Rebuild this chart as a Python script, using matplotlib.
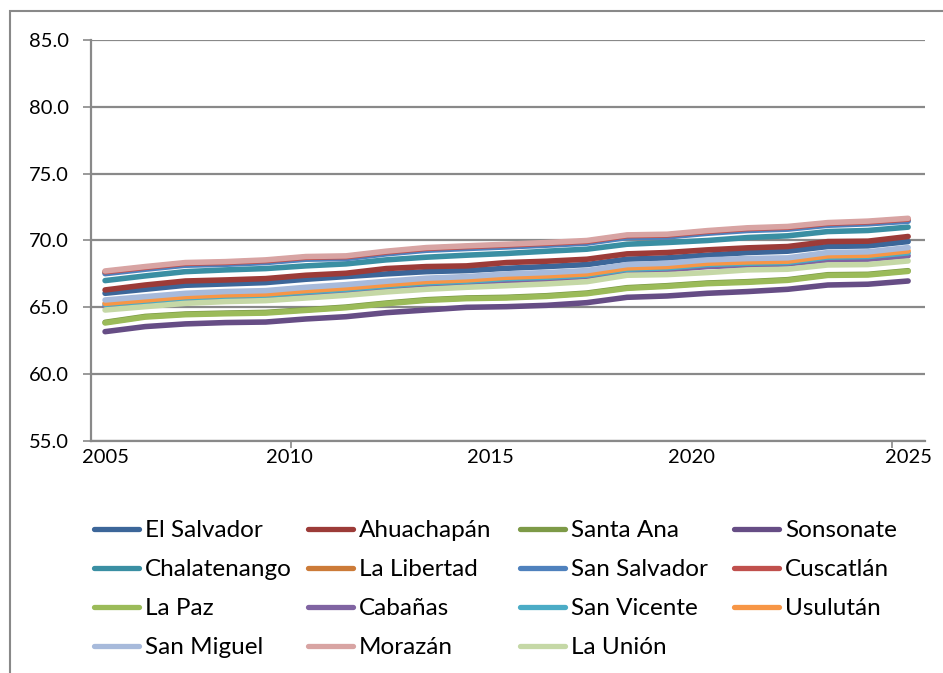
import matplotlib.pyplot as plt
from matplotlib.patches import Rectangle
from matplotlib.lines import Line2D

plt.rcParams['font.family'] = ['Lato', 'DejaVu Sans']

years = list(range(2005, 2026))

el_salvador = [66.05, 66.35, 66.65, 66.75, 66.85, 67.10, 67.30, 67.50, 67.67, 67.75, 67.92,
               68.05, 68.20, 68.60, 68.70, 68.90, 69.10, 69.20, 69.55, 69.60, 69.92]
ahuachapan = [66.30, 66.67, 66.97, 67.05, 67.15, 67.40, 67.55, 67.90, 68.05, 68.10, 68.35,
              68.45, 68.60, 69.00, 69.10, 69.30, 69.45, 69.55, 69.92, 69.95, 70.30]
santa_ana = [63.88, 64.32, 64.50, 64.57, 64.62, 64.82, 65.02, 65.32, 65.57, 65.70, 65.75,
             65.87, 66.07, 66.47, 66.62, 66.82, 66.92, 67.07, 67.44, 67.47, 67.74]
sonsonate = [63.18, 63.56, 63.76, 63.86, 63.90, 64.13, 64.30, 64.60, 64.80, 65.00, 65.05,
             65.15, 65.35, 65.75, 65.85, 66.05, 66.18, 66.35, 66.67, 66.73, 66.97]
chalatenango = [67.00, 67.35, 67.67, 67.80, 67.90, 68.10, 68.25, 68.55, 68.75, 68.90, 69.03,
                69.20, 69.35, 69.72, 69.85, 70.00, 70.22, 70.35, 70.67, 70.75, 71.00]
la_libertad = [67.60, 67.93, 68.22, 68.30, 68.43, 68.67, 68.73, 69.08, 69.35, 69.48, 69.60,
               69.73, 69.88, 70.30, 70.35, 70.62, 70.83, 70.93, 71.22, 71.33, 71.52]
san_salvador = [67.52, 67.85, 68.15, 68.22, 68.35, 68.60, 68.65, 69.00, 69.27, 69.40, 69.52,
                69.65, 69.80, 70.22, 70.27, 70.54, 70.75, 70.85, 71.14, 71.25, 71.44]
cuscatlan = [67.66, 67.99, 68.29, 68.36, 68.49, 68.74, 68.79, 69.14, 69.41, 69.54, 69.66,
             69.79, 69.94, 70.36, 70.41, 70.68, 70.89, 70.99, 71.28, 71.39, 71.60]
la_paz = [63.83, 64.27, 64.45, 64.52, 64.57, 64.77, 64.97, 65.27, 65.52, 65.65, 65.70,
          65.82, 66.02, 66.42, 66.57, 66.77, 66.87, 67.02, 67.39, 67.42, 67.69]
cabanas = [65.05, 65.30, 65.55, 65.68, 65.75, 65.95, 66.15, 66.50, 66.73, 66.85, 67.00,
           67.10, 67.30, 67.70, 67.80, 68.05, 68.15, 68.25, 68.55, 68.60, 68.85]
san_vicente = [65.22, 65.45, 65.70, 65.83, 65.90, 66.15, 66.35, 66.60, 66.83, 66.95, 67.15,
               67.25, 67.40, 67.85, 67.95, 68.20, 68.30, 68.35, 68.75, 68.80, 69.08]
usulutan = [65.30, 65.55, 65.80, 65.93, 66.00, 66.25, 66.45, 66.70, 66.93, 67.05, 67.25,
            67.35, 67.50, 67.95, 68.05, 68.30, 68.40, 68.45, 68.85, 68.90, 69.22]
san_miguel = [65.55, 65.80, 66.05, 66.18, 66.25, 66.50, 66.70, 66.95, 67.18, 67.30, 67.50,
              67.60, 67.75, 68.20, 68.30, 68.55, 68.65, 68.70, 69.10, 69.15, 69.47]
morazan = [67.72, 68.05, 68.35, 68.42, 68.55, 68.80, 68.85, 69.20, 69.47, 69.60, 69.72,
           69.85, 70.00, 70.42, 70.47, 70.74, 70.95, 71.05, 71.34, 71.45, 71.66]
la_union = [64.80, 65.05, 65.30, 65.43, 65.50, 65.70, 65.90, 66.15, 66.35, 66.50, 66.62,
            66.75, 66.92, 67.40, 67.45, 67.60, 67.80, 67.85, 68.17, 68.20, 68.47]

names = ['El Salvador', 'Ahuachapán', 'Santa Ana', 'Sonsonate', 'Chalatenango',
         'La Libertad', 'San Salvador', 'Cuscatlán', 'La Paz', 'Cabañas',
         'San Vicente', 'Usulután', 'San Miguel', 'Morazán', 'La Unión']
series = [el_salvador, ahuachapan, santa_ana, sonsonate, chalatenango, la_libertad,
          san_salvador, cuscatlan, la_paz, cabanas, san_vicente, usulutan,
          san_miguel, morazan, la_union]
colors = ['#3c6699', '#9c3b38', '#7d9a47', '#664d85', '#3a8fa3', '#cc7b38',
          '#4f81bd', '#c0504d', '#9bbb59', '#8064a2', '#4bacc6', '#f79646',
          '#a7badb', '#d8a4a3', '#c5d8a6']

xtick_pos = [2005, 2009.6, 2014.6, 2019.6, 2025]
xtick_labels = ['2005', '2010', '2015', '2020', '2025']
yticks = [55, 60, 65, 70, 75, 80, 85]

fig = plt.figure(figsize=(9.43, 6.73), dpi=100)
ax = fig.add_axes([91 / 943, 1 - 441 / 673, 834 / 943, 401 / 673])

gray = '#898989'
for y in yticks:
    ax.axhline(y, color=gray, lw=1.6, zorder=1)

for vals, c in zip(series, colors):
    ax.plot(years, vals, color=c, lw=4, solid_capstyle='round',
            solid_joinstyle='round', zorder=2)

ax.set_xlim(2004.65, 2025.42)
ax.set_ylim(55, 85)
ax.set_yticks(yticks)
ax.set_yticklabels(['%.1f' % v for v in yticks])
ax.set_xticks(xtick_pos)
ax.set_xticklabels(xtick_labels)
ax.set_xticks([2009.63, 2014.6, 2019.6, 2024.6], minor=True)

for s in ['top', 'right']:
    ax.spines[s].set_visible(False)
for s in ['left', 'bottom']:
    ax.spines[s].set_color(gray)
    ax.spines[s].set_linewidth(1.6)
ax.tick_params(axis='y', length=6, width=1.2, color=gray, pad=10, labelsize=14.5)
ax.tick_params(axis='x', which='major', length=0, pad=6, labelsize=14.5)
ax.tick_params(axis='x', which='minor', length=5, width=1.2, color=gray)

# legend: 4 columns placed separately so column widths stay fixed
col_x = [94, 308, 520, 734]
for col in range(4):
    idx = list(range(col, len(names), 4))
    handles = [Line2D([], [], color=colors[i], lw=3.8, solid_capstyle='round') for i in idx]
    fig.legend(handles, [names[i] for i in idx], loc='upper left',
               bbox_to_anchor=(col_x[col] / 943, 1 - 520 / 673),
               frameon=False, fontsize=17.5, handlelength=1.85, handletextpad=0.25,
               labelspacing=0.74, borderpad=0, borderaxespad=0)

fig.patches.append(Rectangle((10 / 943, -0.5), 2, (1 - 11 / 673) + 0.5,
                             transform=fig.transFigure, fill=False, ec=gray, lw=1.5))

fig.savefig('out.png', dpi=100)
